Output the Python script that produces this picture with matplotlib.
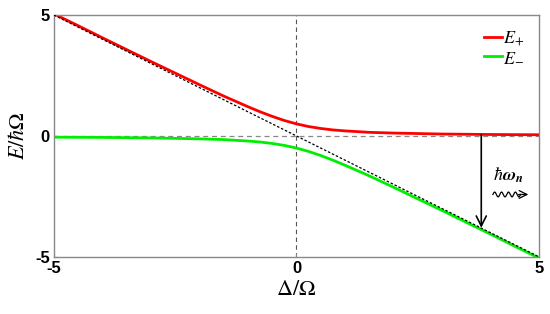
import numpy as np
import matplotlib
matplotlib.use('Agg')
import matplotlib.pyplot as plt

# detuning values (Delta / Omega)
delta = [-5, -4.5, -4, -3.5, -3, -2.5, -2, -1.5, -1.25, -1, -0.75, -0.5, -0.25,
         0, 0.25, 0.5, 0.75, 1, 1.25, 1.5, 2, 2.5, 3, 3.5, 4, 4.5, 5]
# upper branch E+
e_plus = [5.05, 4.56, 4.06, 3.57, 3.08, 2.60, 2.12, 1.65, 1.43, 1.21, 1.0, 0.81, 0.64,
          0.5, 0.39, 0.31, 0.25, 0.21, 0.18, 0.15, 0.12, 0.10, 0.08, 0.07, 0.06, 0.055, 0.05]
# lower branch E-
e_minus = [-0.05, -0.055, -0.06, -0.07, -0.08, -0.10, -0.12, -0.15, -0.18, -0.21, -0.25, -0.31, -0.39,
           -0.5, -0.64, -0.81, -1.0, -1.21, -1.43, -1.65, -2.12, -2.60, -3.08, -3.57, -4.06, -4.56, -5.05]
ticks = [-5, 0, 5]

plt.rcParams['mathtext.fontset'] = 'stix'
plt.rcParams['font.family'] = ['Liberation Sans', 'DejaVu Sans']

fig = plt.figure(figsize=(5.5, 3.14), dpi=100)
ax = fig.add_axes([0.098, 0.182, 0.882, 0.770])

# guide lines
ax.axvline(0, color='#555555', ls=(0, (4, 3)), lw=0.8, zorder=1)
ax.axhline(0, color='#888888', ls=(0, (4, 3)), lw=0.9, zorder=1)
ax.plot([-5, 5], [5, -5], color='black', ls=(0, (2, 1.5)), lw=0.9, zorder=3)

ax.plot(delta, e_plus, color='#ff0000', lw=2.0, label=r'$E_{+}$', zorder=2)
ax.plot(delta, e_minus, color='#00ee00', lw=2.0, label=r'$E_{-}$', zorder=2)

# transition arrow
ax.annotate('', xy=(3.81, -3.8), xytext=(3.81, 0.05),
            arrowprops=dict(arrowstyle='->', color='black', lw=1.2,
                            mutation_scale=18, shrinkA=0, shrinkB=0))
ax.text(4.05, -1.62, r'$\hbar\mathbfit{\omega}_{\mathbfit{n}}$', fontsize=13, va='center', ha='left')

# wavy photon arrow
wx = np.linspace(4.05, 4.62, 200)
wy = -2.42 + 0.10 * np.sin((wx - 4.05) / 0.57 * 4 * 2 * np.pi)
ax.plot(wx, wy, color='black', lw=0.9)
ax.annotate('', xy=(4.78, -2.42), xytext=(4.58, -2.42),
            arrowprops=dict(arrowstyle='->', color='black', lw=0.9, mutation_scale=14,
                            shrinkA=0, shrinkB=0))

ax.set_xlim(-5, 5)
ax.set_ylim(-5, 5)
ax.set_xticks(ticks)
ax.set_yticks(ticks)
ax.set_xticklabels([str(t) for t in ticks], fontweight='bold', fontsize=12)
ax.set_yticklabels([str(t) for t in ticks], fontweight='bold', fontsize=12)
ax.tick_params(direction='in', length=3, color='#888888', pad=3)
for s in ax.spines.values():
    s.set_color('#888888')
    s.set_linewidth(1.0)

ax.set_xlabel(r'$\Delta/\Omega$', fontsize=16, labelpad=2)
ax.set_ylabel(r'$E/\hbar\Omega$', fontsize=16, labelpad=4)

ax.legend(loc='upper right', frameon=False, fontsize=13, handlelength=1.0,
          handletextpad=0.1, borderaxespad=0.4, labelspacing=0.05)

fig.savefig('out.png', dpi=100)
